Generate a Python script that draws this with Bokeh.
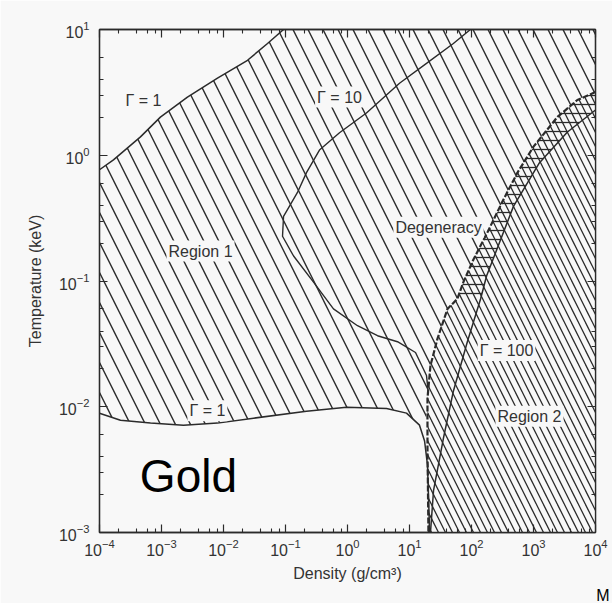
import numpy as np
from bokeh.plotting import figure
from bokeh.models import (LogAxis, FixedTicker, CustomJSTickFormatter, LogTickFormatter,
                          Label, Range1d, Title)
from bokeh.embed import file_html
from bokeh.resources import INLINE

# ---------------- data ----------------
x_ticks = [1e-4, 1e-3, 1e-2, 1e-1, 1e0, 1e1, 1e2, 1e3, 1e4]
y_ticks = [1e-3, 1e-2, 1e-1, 1e0, 1e1]
x_minor_mult = [2, 4, 6, 8]
y_minor_mult = [2, 3, 4, 6]

# Gamma = 1 (upper branch)
g1u_rho = [1e-4, 1.68e-4, 4.58e-4, 9.6e-4, 2.62e-3, 8.0e-3, 0.0244, 0.0513, 0.093]
g1u_T = [0.767, 0.92, 1.40, 2.01, 2.90, 4.10, 5.69, 7.74, 10.0]

# Gamma = 10
g10_rho = [96, 51, 18.8, 6.9, 2.02, 0.743, 0.353, 0.218, 0.156, 0.093, 0.0895,
           0.135, 0.283, 0.594, 1.45, 3.05, 6.4, 12.5, 18.8, 20.2]
g10_T = [10.0, 7.74, 5.38, 3.74, 2.17, 1.51, 1.10, 0.728, 0.506, 0.327, 0.227,
         0.158, 0.098, 0.060, 0.0441, 0.0367, 0.0329, 0.027, 0.0177, 0.0128]

# Gamma = 1 (lower branch)
g1l_rho = [1e-4, 2.18e-4, 6.65e-4, 2.26e-3, 8.0e-3, 0.0305, 0.218, 0.964, 4.26,
           8.95, 14.5, 17.5, 19.5, 21.0, 21.0]
g1l_T = [0.00889, 0.00782, 0.00741, 0.00714, 0.00741, 0.00811, 0.0092, 0.0099,
         0.0097, 0.0089, 0.00714, 0.00534, 0.00345, 0.0011, 0.001]

# Degeneracy boundary
deg_rho = [1e4, 5.1e3, 2.44e3, 1.0e3, 552, 328, 181, 108, 74, 59, 41, 28.3,
           21.8, 19.5, 19.5, 20.2]
deg_T = [3.18, 2.75, 2.02, 1.17, 0.728, 0.445, 0.244, 0.149, 0.098, 0.072,
         0.060, 0.0348, 0.0213, 0.0117, 0.0047, 0.001]

# Gamma = 100
g100_rho = [1e4, 3530, 1250, 475, 175, 140, 86, 51, 35.3, 24.4, 21.8]
g100_T = [2.29, 1.53, 0.873, 0.392, 0.1096, 0.072, 0.033, 0.0133, 0.00564,
          0.00215, 0.001]

x_lo, x_hi = 1e-4, 1e4
y_lo, y_hi = 1e-3, 10.0

# ---------------- styling ----------------
BG = "#f8f8f8"
INK = "#2b2b2b"
FONT = "Liberation Sans"

p = figure(width=612, height=603, x_axis_type="log", y_axis_type="log",
           x_range=Range1d(x_lo, x_hi), y_range=Range1d(y_lo, y_hi),
           output_backend="svg", toolbar_location=None,
           min_border_left=99, min_border_right=17, min_border_top=29,
           min_border_bottom=68)
p.background_fill_color = BG
p.border_fill_color = BG
p.grid.visible = False
p.outline_line_color = INK
p.outline_line_width = 1.3

# ---------------- hatched regions ----------------
g1u_rho_a, g1u_T_a = np.array(g1u_rho), np.array(g1u_T)
deg_rho_a, deg_T_a = np.array(deg_rho), np.array(deg_T)
g1l_rho_a, g1l_T_a = np.array(g1l_rho), np.array(g1l_T)
g100_rho_a, g100_T_a = np.array(g100_rho), np.array(g100_T)

deg_upper = deg_T_a >= 0.0117
low_left = g1l_rho_a <= 17.5
r1_x = np.concatenate([g1u_rho_a, [x_hi], deg_rho_a[deg_upper], g1l_rho_a[low_left][::-1]])
r1_y = np.concatenate([g1u_T_a, [y_hi], deg_T_a[deg_upper], g1l_T_a[low_left][::-1]])
p.patch(r1_x, r1_y, fill_color=None, line_color=None,
        hatch_pattern="\\", hatch_scale=30, hatch_weight=1.4, hatch_color=INK)

r2_x = np.concatenate([deg_rho_a, [x_hi]])
r2_y = np.concatenate([deg_T_a, [y_lo]])
p.patch(r2_x, r2_y, fill_color=BG, line_color=None,
        hatch_pattern="\\", hatch_scale=14, hatch_weight=1.3, hatch_color=INK)

band_deg = deg_T_a >= 0.072
band_g = g100_T_a >= 0.072
b_x = np.concatenate([deg_rho_a[band_deg], g100_rho_a[band_g][::-1]])
b_y = np.concatenate([deg_T_a[band_deg], g100_T_a[band_g][::-1]])
p.patch(b_x, b_y, fill_color=None, line_color=None,
        hatch_pattern="-", hatch_scale=9, hatch_weight=1.3, hatch_color=INK)

# ---------------- curves ----------------
p.line(g1u_rho, g1u_T, line_color=INK, line_width=1.5)
p.line(g10_rho, g10_T, line_color=INK, line_width=1.4)
p.line(g1l_rho, g1l_T, line_color=INK, line_width=1.5)
p.line(g100_rho, g100_T, line_color=INK, line_width=1.5)
p.line(deg_rho, deg_T, line_color=INK, line_width=2.2, line_dash="6 2")

# ---------------- axes ----------------
x_minor = [t * m for t in x_ticks[:-1] for m in x_minor_mult]
y_minor = [t * m for t in y_ticks[:-1] for m in y_minor_mult]

def style_axis(ax, ticks, minor, labelled=True):
    ax.ticker = FixedTicker(ticks=ticks, minor_ticks=minor)
    if labelled:
        ax.formatter = LogTickFormatter()
    else:
        ax.formatter = CustomJSTickFormatter(code="return '';")
        ax.major_label_standoff = 0
    ax.major_tick_in = 8
    ax.major_tick_out = 0
    ax.minor_tick_in = 4
    ax.minor_tick_out = 0
    ax.axis_line_color = INK
    ax.axis_line_width = 1.3
    ax.major_tick_line_color = INK
    ax.minor_tick_line_color = INK
    ax.major_tick_line_width = 1.2
    ax.minor_tick_line_width = 1.1
    ax.major_label_text_font = FONT
    ax.major_label_text_font_size = "16px"
    ax.major_label_text_color = "#333333"
    ax.axis_label_text_font = FONT
    ax.axis_label_text_font_size = "16px"
    ax.axis_label_text_font_style = "normal"
    ax.axis_label_text_color = "#333333"

xa = p.xaxis[0]
style_axis(xa, x_ticks, x_minor)
xa.axis_label = "Density (g/cm³)"
xa.major_label_standoff = 6
xa.axis_label_standoff = 6

ya = p.yaxis[0]
style_axis(ya, y_ticks, y_minor)
ya.axis_label = "Temperature (keV)"
ya.major_label_standoff = 10
ya.axis_label_standoff = 12

top = LogAxis()
style_axis(top, x_ticks, x_minor, labelled=False)
p.add_layout(top, "above")
right = LogAxis()
style_axis(right, y_ticks, y_minor, labelled=False)
p.add_layout(right, "right")

# stray letter at the lower right edge of the scan
p.add_layout(Title(text="M", align="right", offset=-14, standoff=0,
                   text_font=FONT, text_font_size="16px", text_font_style="normal",
                   text_color="#000000"), "below")

# ---------------- labels ----------------
def lab(x, y, text, size="16px", color="#333333", bg=BG, **kw):
    p.add_layout(Label(x=x, y=y, text=text, text_align="center", text_baseline="middle",
                       text_font=FONT, text_font_size=size, text_color=color,
                       background_fill_color=bg, padding=2, **kw))

lab(5.1e-4, 2.75, "Γ = 1")
lab(0.743, 2.90, "Γ = 10")
lab(4.26e-3, 0.173, "Region 1")
lab(29.4, 0.267, "Degeneracy")
lab(367, 0.028, "Γ = 100")
lab(861, 0.0084, "Region 2")
lab(5.5e-3, 0.0093, "Γ = 1")
lab(2.72e-3, 2.82e-3, "Gold", size="46px", color="#000000", bg=None)

open("out.html", "w").write(file_html(p, INLINE))
